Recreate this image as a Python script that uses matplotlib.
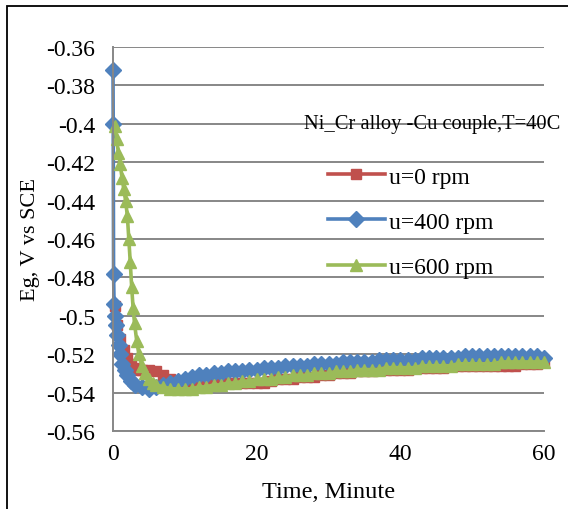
import matplotlib
matplotlib.use('Agg')
from matplotlib import pyplot as plt
from matplotlib.patches import Rectangle

# time (minute) and potential (V vs SCE) for each rotation speed
t_0rpm = [0.3, 0.6, 1.0, 1.5, 2.0, 2.5, 3.0, 3.5, 4.0, 5.0, 6.0, 7.0] + list(range(8, 61))
eg_0rpm = [-0.495, -0.505, -0.512, -0.518, -0.522, -0.525, -0.527, -0.528, -0.528, -0.528, -0.529, -0.531,
           -0.533, -0.534, -0.534, -0.534, -0.535, -0.535, -0.535, -0.535, -0.535, -0.535, -0.535, -0.535,
           -0.535, -0.535, -0.534, -0.533, -0.533, -0.533, -0.532, -0.532, -0.532, -0.531, -0.531, -0.530,
           -0.530, -0.530, -0.529, -0.529, -0.529, -0.528, -0.528, -0.528, -0.528, -0.528, -0.527, -0.527,
           -0.527, -0.527, -0.527, -0.526, -0.526, -0.526, -0.526, -0.526, -0.526, -0.526, -0.526, -0.526,
           -0.526, -0.525, -0.525, -0.525, -0.524]

t_400rpm = [0, 0.03, 0.08, 0.15, 0.25, 0.4, 0.6, 0.8, 1.0, 1.3, 1.7, 2.0, 2.5, 3.0, 4.0, 5.0] + list(range(6, 61))
eg_400rpm = [-0.372, -0.400, -0.478, -0.494, -0.500, -0.505, -0.510, -0.515, -0.520, -0.525, -0.528, -0.531,
             -0.534, -0.536, -0.537, -0.538,
             -0.537, -0.536, -0.535, -0.534, -0.533, -0.532, -0.531, -0.531, -0.530, -0.530, -0.529, -0.529,
             -0.529, -0.528, -0.528, -0.527, -0.527, -0.527, -0.526, -0.526, -0.526, -0.526, -0.525, -0.525,
             -0.525, -0.525, -0.524, -0.524, -0.524, -0.524, -0.524, -0.523, -0.523, -0.523, -0.523, -0.523,
             -0.523, -0.522, -0.522, -0.522, -0.522, -0.522, -0.522, -0.521, -0.521, -0.521, -0.521, -0.521,
             -0.521, -0.521, -0.521, -0.521, -0.521, -0.521, -0.522]

t_600rpm = [0.25, 0.5, 0.75, 1.0, 1.25, 1.5, 1.75, 2.0, 2.2, 2.4, 2.6, 2.8, 3.0, 3.3, 3.6, 4.0, 4.5, 5.0,
            5.5, 6.0] + list(range(7, 61))
eg_600rpm = [-0.401, -0.408, -0.415, -0.421, -0.428, -0.434, -0.440, -0.448, -0.460, -0.472, -0.485, -0.496,
             -0.504, -0.513, -0.520, -0.526, -0.530, -0.533, -0.535, -0.536,
             -0.537, -0.538, -0.538, -0.538, -0.538, -0.537, -0.537, -0.536, -0.536, -0.535, -0.535, -0.534,
             -0.534, -0.533, -0.533, -0.533, -0.532, -0.532, -0.531, -0.531, -0.531, -0.530, -0.530, -0.530,
             -0.529, -0.529, -0.529, -0.528, -0.528, -0.528, -0.528, -0.527, -0.527, -0.527, -0.527, -0.527,
             -0.526, -0.526, -0.526, -0.526, -0.526, -0.525, -0.525, -0.525, -0.525, -0.525, -0.525, -0.524,
             -0.524, -0.524, -0.524, -0.524, -0.524, -0.524]

y_ticks = [-0.36, -0.38, -0.40, -0.42, -0.44, -0.46, -0.48, -0.50, -0.52, -0.54, -0.56]
y_labels = ['-0.36', '-0.38', '-0.4', '-0.42', '-0.44', '-0.46', '-0.48', '-0.5', '-0.52', '-0.54', '-0.56']
x_ticks = [0, 20, 40, 60]

plt.rcParams['font.family'] = ['Liberation Serif', 'DejaVu Serif']
fs = 17

fig = plt.figure(figsize=(5.68, 5.10), dpi=100)
fig.patches.append(Rectangle((7/568, -0.1), 1.2, (510-7)/510+0.1, transform=fig.transFigure,
                             fill=False, edgecolor='black', linewidth=1.3))
ax = fig.add_axes([113/568, (510-432)/510, (544-113)/568, (432-48)/510])

ax.plot(t_0rpm, eg_0rpm, color='#C0504D', marker='s', markersize=7, linewidth=2.6, label='u=0 rpm', clip_on=False)
ax.plot(t_400rpm, eg_400rpm, color='#4F81BD', marker='D', markersize=8.5, linewidth=2.6, label='u=400 rpm', clip_on=False)
ax.plot(t_600rpm, eg_600rpm, color='#9BBB59', marker='^', markersize=9, linewidth=2.6, label='u=600 rpm', clip_on=False)

ax.set_xlim(0, 60)
ax.set_ylim(-0.56, -0.36)
ax.set_yticks(y_ticks)
ax.set_yticklabels(y_labels)
ax.set_xticks(x_ticks)
ax.tick_params(axis='y', length=0, labelsize=fs, pad=13)
ax.tick_params(axis='x', length=0, labelsize=fs, pad=9)
ax.yaxis.grid(True, color='#878787', linewidth=1.4)
ax.set_axisbelow(True)
for s in ['top', 'right']:
    ax.spines[s].set_visible(False)
for s in ['left', 'bottom']:
    ax.spines[s].set_color('#878787')
    ax.spines[s].set_linewidth(1.4)

ax.set_xlabel('Time, Minute', fontsize=17.5, labelpad=12)
ax.set_ylabel('Eg, V vs SCE', fontsize=16, labelpad=4)

fig.text(304/568, (510-125)/510, 'Ni_Cr alloy -Cu couple,T=40C', fontsize=14.8, ha='left', va='center')

leg = ax.legend(loc='upper left', bbox_to_anchor=(328/568, (510-167)/510), bbox_transform=fig.transFigure,
                frameon=False, fontsize=fs, handlelength=2.4, handletextpad=0.2, labelspacing=1.0,
                borderpad=0, borderaxespad=0)

fig.savefig('out.png', dpi=100)
